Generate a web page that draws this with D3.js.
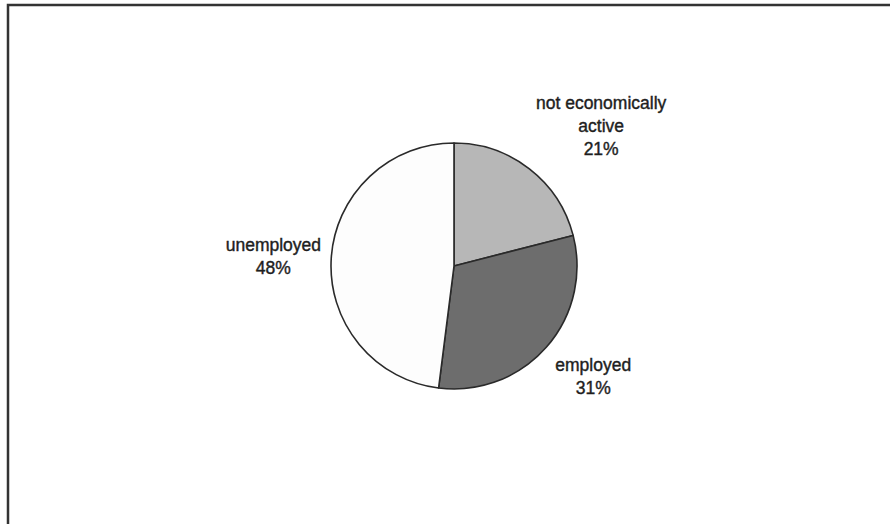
<!DOCTYPE html>
<html>
<head>
<meta charset="utf-8">
<script src="https://cdn.jsdelivr.net/npm/d3@7"></script>
<style>
  html, body { margin: 0; padding: 0; background: #fff; }
  svg { display: block; }
  text { font-family: "Liberation Sans", Arial, sans-serif; fill: #1e1e1e; stroke: #1e1e1e; stroke-width: 0.4px; }
</style>
</head>
<body>
<svg id="chart" width="890" height="524"></svg>
<script>
// Data
const categories = ["not economically active", "employed", "unemployed"];
const labelLines = [["not economically", "active"], ["employed"], ["unemployed"]];
const values = [21, 31, 48];
const percentLabels = ["21%", "31%", "48%"];

const svg = d3.select("#chart");

// frame (left and top visible; right/bottom beyond view)
svg.append("rect")
  .attr("x", 8).attr("y", 5)
  .attr("width", 900).attr("height", 540)
  .attr("fill", "#fff")
  .attr("stroke", "#333").attr("stroke-width", 2.5);

const cx = 454, cy = 266, r = 123;
const colors = d3.scaleOrdinal().domain(categories).range(["#b7b7b7", "#6d6d6d", "#fdfdfd"]);

const pie = d3.pie().sort(null).value(d => d.v)(categories.map((c, i) => ({c, v: values[i], i})));
const arc = d3.arc().innerRadius(0).outerRadius(r);

const g = svg.append("g").attr("transform", `translate(${cx},${cy})`);
g.selectAll("path").data(pie).join("path")
  .attr("d", arc)
  .attr("fill", d => colors(d.data.c))
  .attr("stroke", "#2a2a2a")
  .attr("stroke-width", 1.6)
  .attr("stroke-linejoin", "round");

// label placement: point outside slice midpoint, tuned offsets per label
const labelArc = d3.arc().innerRadius(r + 60).outerRadius(r + 60);
const offsets = [[35, 5], [2, -11], [2, 2]];
const lh = 23;
pie.forEach((d, i) => {
  const [x, y] = labelArc.centroid(d);
  const lines = labelLines[i].concat([percentLabels[i]]);
  const n = lines.length;
  const t = g.append("text")
    .attr("text-anchor", "middle")
    .attr("font-size", 17.5);
  lines.forEach((ln, k) => {
    t.append("tspan")
      .attr("x", x + offsets[i][0])
      .attr("y", y + offsets[i][1] + (k - (n - 1) / 2) * lh + 6)
      .text(ln);
  });
});
</script>
</body>
</html>
